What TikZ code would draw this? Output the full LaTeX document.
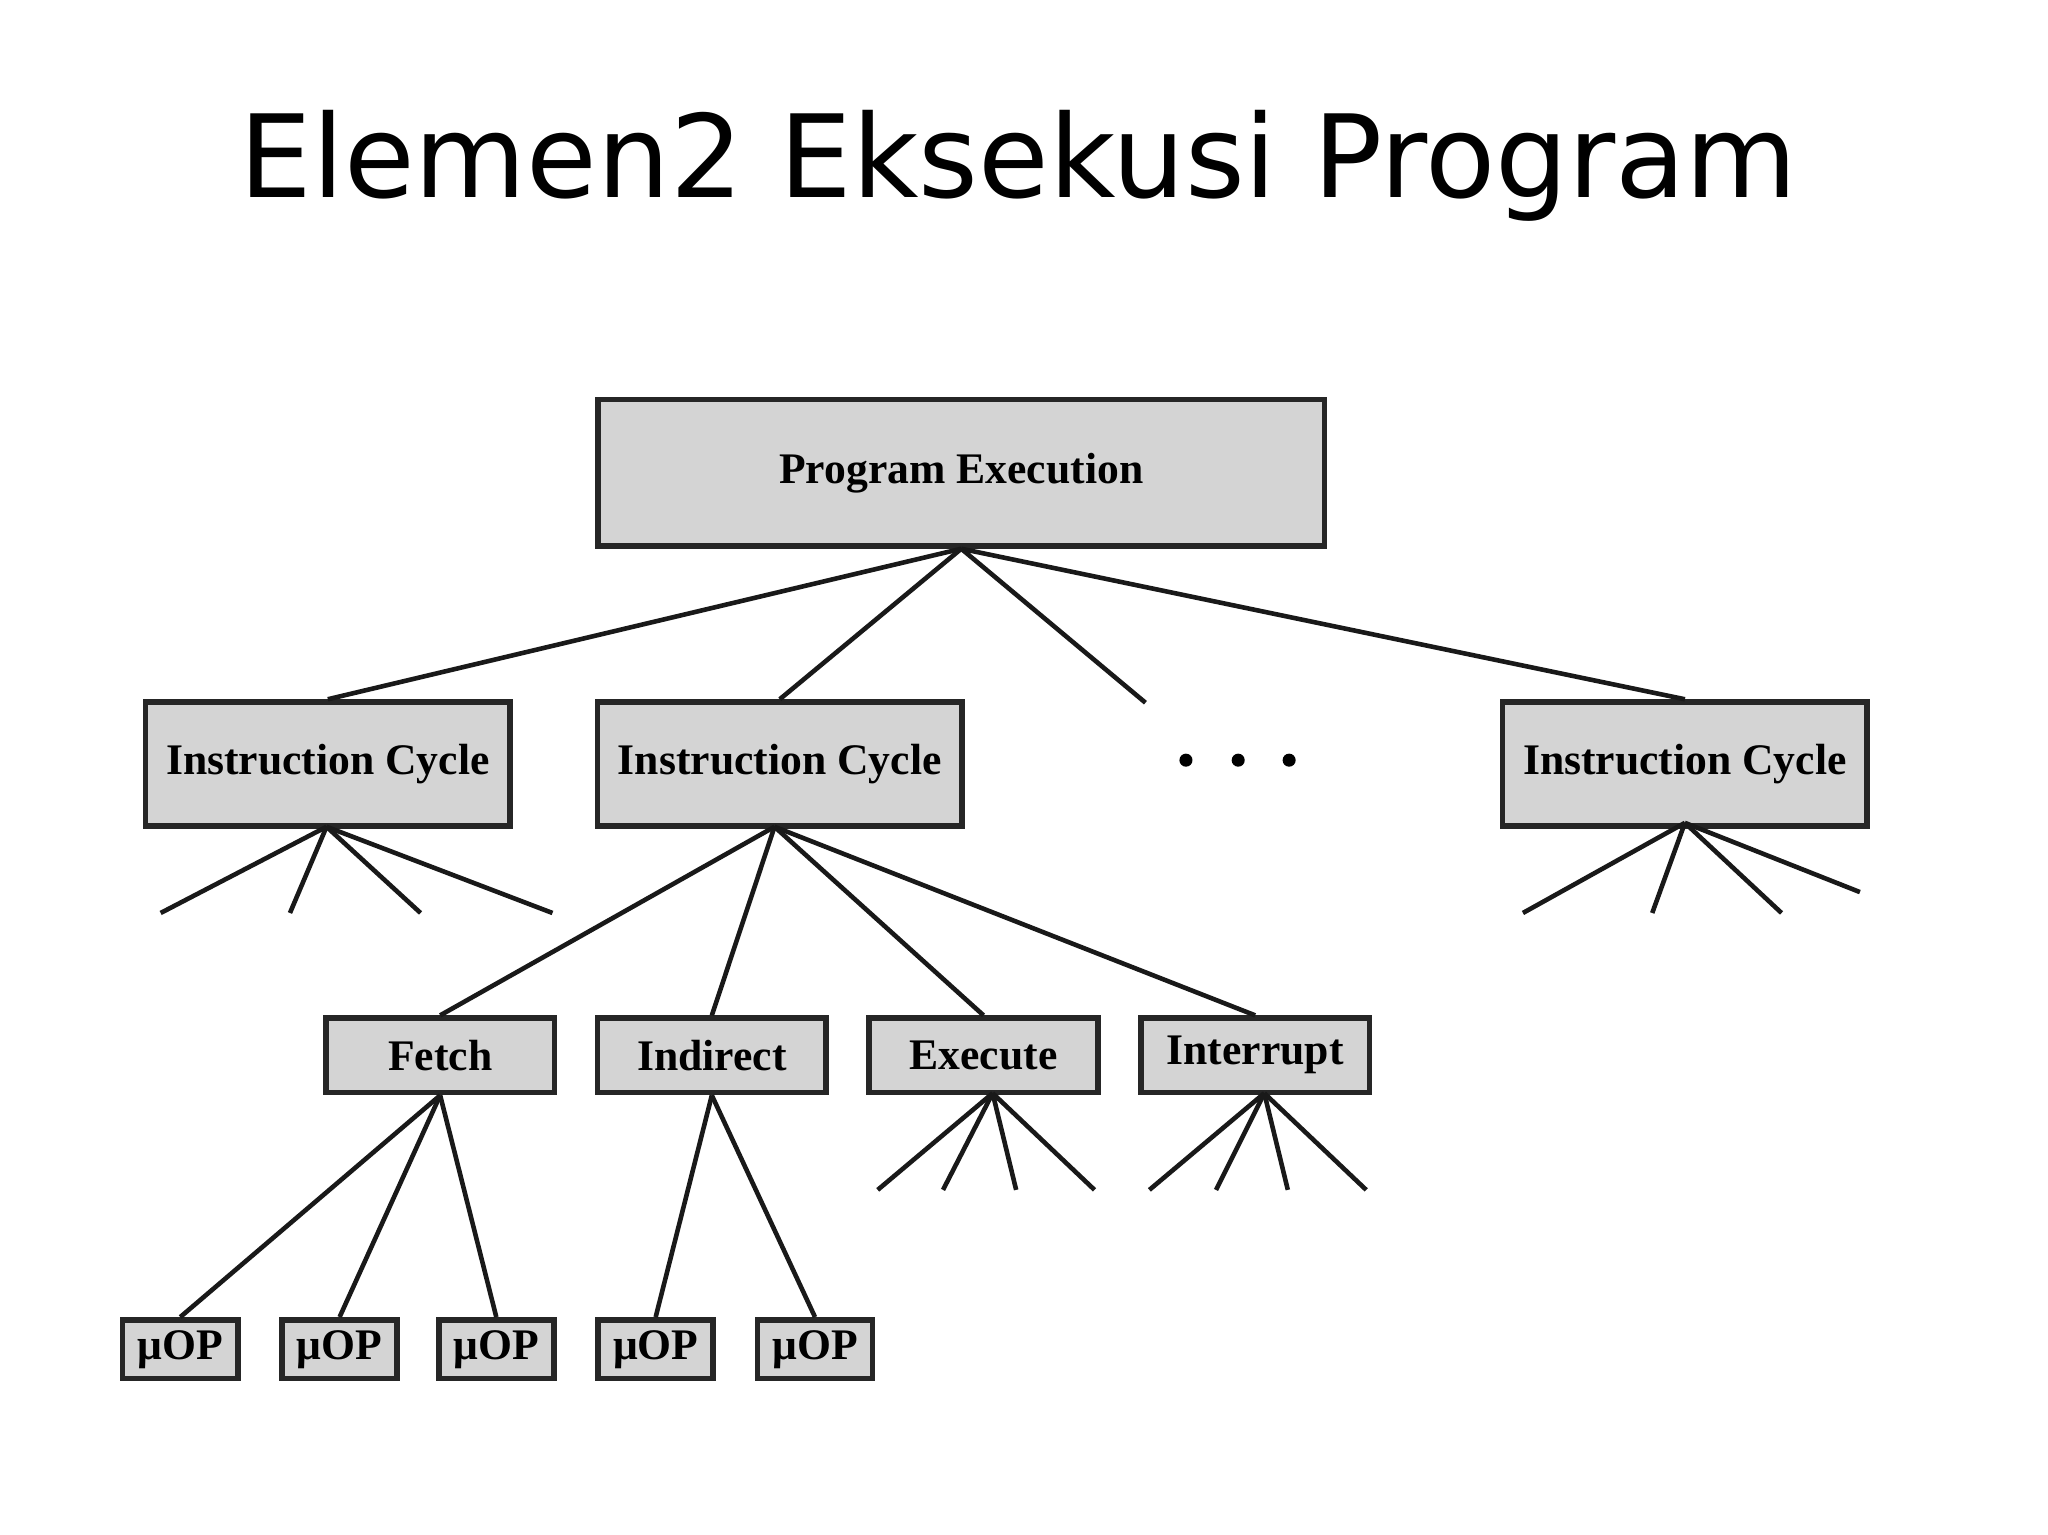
\documentclass[tikz,border=0pt]{standalone}
\usepackage{fontspec}
\setmainfont{Liberation Serif}
\newfontfamily\titlefont{DejaVu Sans}
\begin{document}
\begin{tikzpicture}[x=0.01cm,y=-0.01cm,
  box/.style={draw=black!85,line width=1.2pt,fill=black!17,inner sep=0pt,font=\fontsize{9.5}{11}\selectfont\bfseries},
  mop/.style={box,minimum width=0.88cm,minimum height=0.45cm},
  mid/.style={box,minimum width=1.75cm,minimum height=0.57cm},
  ic/.style={box,minimum width=2.79cm,minimum height=0.95cm},
  ln/.style={line width=1pt,black!90}]
\useasboundingbox (0,0) rectangle (1568,1175);
\node[font=\titlefont\fontsize{25}{30}\selectfont] (title) at (780,127) {Elemen2 Eksekusi Program};
\node[box,minimum width=5.56cm,minimum height=1.12cm] (pe) at (736,362) {Program Execution};
\node[ic] (ic1) at (251,585) {Instruction Cycle};
\node[ic] (ic2) at (597,585) {Instruction Cycle};
\node[ic] (ic3) at (1290,585) {Instruction Cycle};
\foreach \x/\n in {908/d1,948/d2,987/d3} \fill (\x,582) circle (5);
\node[mid] (fe) at (337,808) {Fetch};
\node[mid] (in) at (545,808) {Indirect};
\node[mid] (ex) at (753,808) {Execute};
\node[mid] (it) at (961,808) {Interrupt};
\node[mop] (m1) at (138,1033) {μOP};
\node[mop] (m2) at (260,1033) {μOP};
\node[mop] (m3) at (380,1033) {μOP};
\node[mop] (m4) at (502,1033) {μOP};
\node[mop] (m5) at (624,1033) {μOP};
\coordinate (pd) at (877,538);
\draw[ln] (pe.south) -- (ic1.north);
\draw[ln] (pe.south) -- (ic2.north);
\draw[ln] (pe.south) -- (pd);
\draw[ln] (pe.south) -- (ic3.north);
\coordinate (a1) at (250,633);
\foreach \x/\y in {123/699,222/699,322/699,423/699} \draw[ln] (a1) -- (\x,\y);
\coordinate (a3) at (1290,630);
\foreach \x/\y in {1166/699,1265/699,1364/699,1424/683} \draw[ln] (a3) -- (\x,\y);
\coordinate (a2) at (593,633);
\draw[ln] (a2) -- (fe.north);
\draw[ln] (a2) -- (in.north);
\draw[ln] (a2) -- (ex.north);
\draw[ln] (a2) -- (it.north);
\draw[ln] (fe.south) -- (m1.north);
\draw[ln] (fe.south) -- (m2.north);
\draw[ln] (fe.south) -- (m3.north);
\draw[ln] (in.south) -- (m4.north);
\draw[ln] (in.south) -- (m5.north);
\coordinate (a4) at (760,837);
\foreach \x in {672,722,778,838} \draw[ln] (a4) -- (\x,911);
\coordinate (a5) at (968,837);
\foreach \x in {880,931,986,1046} \draw[ln] (a5) -- (\x,911);
\end{tikzpicture}
\end{document}
